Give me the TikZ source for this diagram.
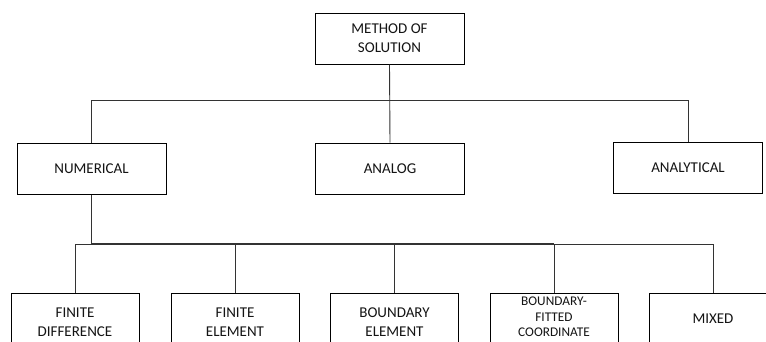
\documentclass[tikz,border=0pt]{standalone}
\usepackage{fontspec}
\setmainfont{Carlito}
\begin{document}
\begin{tikzpicture}[x=1pt,y=-1pt,
  box/.style={draw=black,line width=1pt,fill=white,inner sep=0pt},
  upbox/.style={box,minimum width=149pt,minimum height=51pt},
  lowbox/.style={box,anchor=north,minimum width=128pt,minimum height=70pt},
  lbl/.style={inner sep=0pt,align=center,text=black!92,font=\fontsize{15}{19}\selectfont},
  smalllbl/.style={lbl,font=\fontsize{13.3}{15.5}\selectfont},
  link/.style={draw=black!80,line width=0.9pt}]
\useasboundingbox (0,0) rectangle (766,341);
\clip (0,0) rectangle (766,341);

% top level
\node[upbox,lbl] (method) at (389.5,38.5) {METHOD OF\\SOLUTION};

% second level
\node[upbox,lbl] (num) at (91.5,168.5) {NUMERICAL};
\node[upbox,lbl] (analog) at (390,168.5) {ANALOG};
\node[upbox,lbl] (analyt) at (688,168) {ANALYTICAL};

% third level boxes (run past the lower edge)
\node[lowbox] (fd) at (75,293) {};
\node[lowbox] (fe) at (235,293) {};
\node[lowbox] (be) at (394.5,293) {};
\node[lowbox] (bfc) at (554,293) {};
\node[lowbox] (mix) at (713,293) {};

\node[lbl] (fdt) at (fd.north |- 0,322.5) {FINITE\\DIFFERENCE};
\node[lbl] (fet) at (fe.north |- 0,322.5) {FINITE\\ELEMENT};
\node[lbl] (bet) at (be.north |- 0,322.5) {BOUNDARY\\ELEMENT};
\node[smalllbl] (bfct) at (bfc.north |- 0,317) {BOUNDARY-\\FITTED\\COORDINATE};
\node[lbl] (mixt) at (mix.north |- 0,319) {MIXED};

% bus points
\coordinate (busL) at (num.south |- 0,100);
\coordinate (busR) at (analyt.north |- 0,100);
\coordinate (lowL) at (fd.north |- 0,244);
\coordinate (lowR) at (mix.north |- 0,244);
\coordinate (numfoot) at (num.south |- 0,243);
\coordinate (bfcfoot) at (bfc.north |- 0,243);

% upper tree
\draw[link] (method.south) -- (analog.north);
\draw[link] (num.north) -- (busL) -- (busR) -- (analyt.north);

% lower tree
\draw[link] (num.south) -- (numfoot) -- (bfcfoot);
\draw[link] (fd.north) -- (lowL) -- (lowR) -- (mix.north);
\draw[link] (fe.north) -- (fe.north |- lowL);
\draw[link] (be.north) -- (be.north |- lowL);
\draw[link] (bfc.north) -- (bfc.north |- lowL);
\end{tikzpicture}
\end{document}
